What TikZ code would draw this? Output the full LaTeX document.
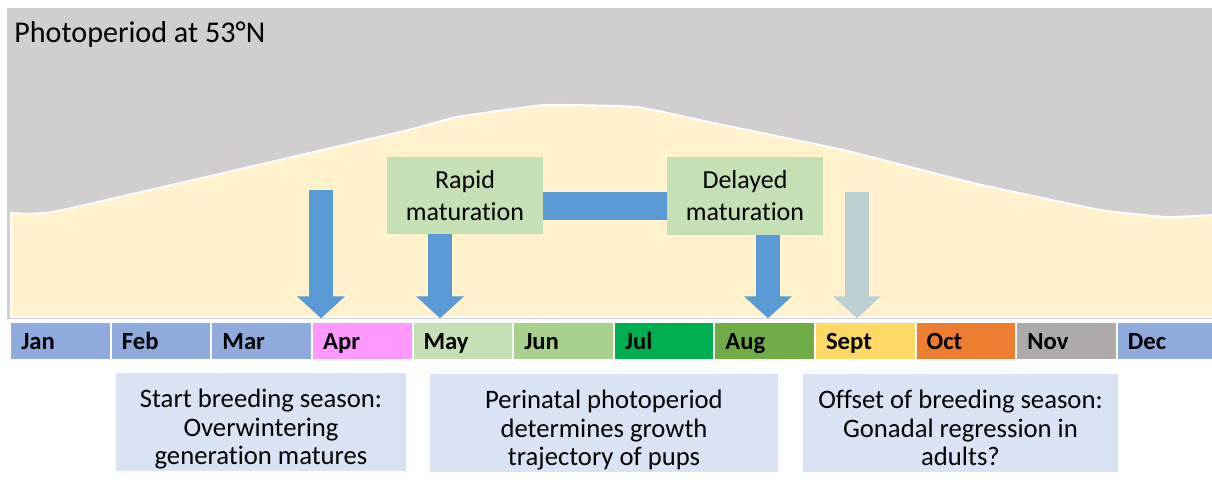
\documentclass[tikz,border=0pt]{standalone}
\usepackage{fontspec}
\setmainfont{Carlito}[Ligatures=NoCommon]
\usetikzlibrary{arrows.meta,positioning,calc}
\definecolor{panelgray}{HTML}{D0CECE}
\definecolor{daylight}{HTML}{FFF2CC}
\definecolor{boxgreen}{HTML}{C5E0B4}
\definecolor{boxblue}{HTML}{DAE3F3}
\definecolor{arrowblue}{HTML}{5B9BD5}
\definecolor{arrowgray}{HTML}{BCCFD3}
\definecolor{winter}{HTML}{8FAADC}
\definecolor{spring}{HTML}{FF99FF}
\definecolor{may}{HTML}{C5E0B4}
\definecolor{jun}{HTML}{A9D18E}
\definecolor{jul}{HTML}{00B050}
\definecolor{aug}{HTML}{70AD47}
\definecolor{sept}{HTML}{FFD966}
\definecolor{oct}{HTML}{ED7D31}
\definecolor{nov}{HTML}{AEAAAA}

\begin{document}
\begin{tikzpicture}[x=0.75pt,y=-0.75pt, line join=round,
  greenbox/.style={fill=boxgreen, minimum width=117pt, minimum height=58pt, align=center, font=\fontsize{19.5}{24}\selectfont},
  infobox/.style={fill=boxblue, inner ysep=0pt, text height=68.5pt, text depth=5pt, align=center, font=\fontsize{20}{21.3}\selectfont},
  month/.style={anchor=north west, minimum height=27pt, inner xsep=7.5pt, inner ysep=5pt, text width=58.9pt, align=left, text height=14.5pt, text depth=2.5pt, font=\bfseries\fontsize{18.5}{20}\selectfont},
  blockarrow/.style={draw=arrowblue, line width=18pt, -{Triangle[width=35pt,length=16.5pt]}, shorten >=3.5pt}]
\useasboundingbox (0,0) rectangle (1212,482);
% photoperiod panel
\fill[panelgray] (7,8) rectangle (1216,319);
\filldraw[fill=daylight, draw=white, line width=1.5pt] plot[smooth, tension=0.2] coordinates {(11,213) (58,211) (400,132) (457,117) (545,105) (637,107) (713,123) (843,150) (973,183) (1100,210) (1167,217) (1214,215)} -- (1214,317) -- (11,317) -- cycle;
\node[anchor=base west, inner sep=0, font=\fontsize{22.6}{26}\selectfont] (title) at (14,42) {Photoperiod at 53°N};
% months
\foreach \m/\c [count=\i] in {Jan/winter, Feb/winter, Mar/winter, Apr/spring, May/may, Jun/jun, Jul/jul, Aug/aug, Sept/sept, Oct/oct, Nov/nov, Dec/winter}
  \node[month, fill=\c] (m\i) at ({11+100.6*(\i-1)},323) {\m};
% maturation boxes
\node[greenbox] (rapid) at (465,195.5) {Rapid\\maturation};
\node[greenbox] (delayed) at (745,196) {Delayed\\maturation};
\draw[arrowblue, line width=21pt] ($(rapid.east)+(0,10.5)$) -- ($(delayed.west)+(0,10)$);
% arrows
\coordinate (aprtop) at (321,190);
\coordinate (septtop) at (857,192);
\draw[blockarrow] (aprtop) -- (aprtop |- m4.north);
\draw[blockarrow] ($(rapid.south)+(-25,0)$) coordinate (rapidfoot) -- (rapidfoot |- m5.north);
\draw[blockarrow] ($(delayed.south)+(23,0)$) coordinate (delayedfoot) -- (delayedfoot |- m8.north);
\draw[blockarrow, draw=arrowgray] (septtop) -- (septtop |- m9.north);
% notes
\node[infobox, minimum width=217.5pt, anchor=north] (start) at (261,373) {Start breeding season:\\Overwintering\\generation matures};
\node[infobox, minimum width=261pt, anchor=north] (perinatal) at (604,374) {Perinatal photoperiod\\determines growth\\trajectory of pups};
\node[infobox, minimum width=236.25pt, anchor=north] (offset) at (960.5,374) {Offset of breeding season:\\Gonadal regression in\\adults?};
\end{tikzpicture}
\end{document}
